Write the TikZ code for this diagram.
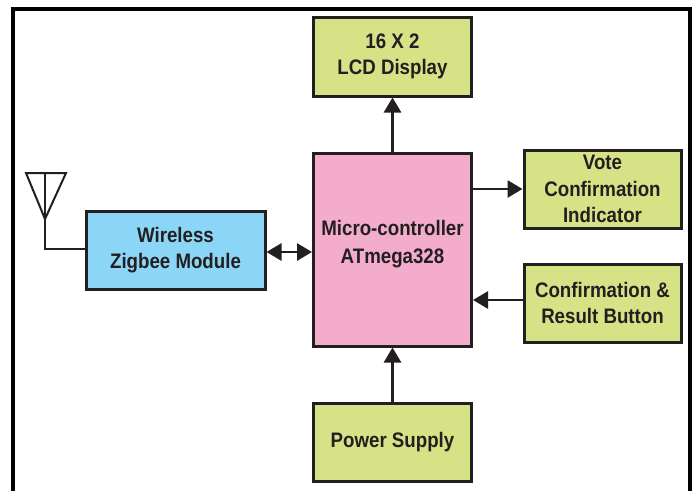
\documentclass[tikz,border=0pt]{standalone}
\usepackage{fontspec}
\setmainfont{Liberation Sans}[FakeStretch=0.89]
\usetikzlibrary{arrows.meta}
\definecolor{boxgreen}{RGB}{213,226,134}
\definecolor{boxpink}{RGB}{244,172,204}
\definecolor{boxblue}{RGB}{139,214,246}
\definecolor{ink}{RGB}{35,31,32}
\tikzset{
  blk/.style={draw=ink, line width=3pt, inner sep=0pt, align=center,
    font=\fontsize{21}{26.5}\selectfont\bfseries, text=ink},
  gbox/.style={blk, fill=boxgreen},
  lbl/.style={inner sep=0pt, align=center, font=\fontsize{21}{27.5}\selectfont\bfseries, text=ink},
  tip/.tip={Triangle[length=15pt,width=17pt]},
  arr/.style={draw=ink, line width=2.8pt, -tip},
  darr/.style={draw=ink, line width=2.8pt, tip-tip},
  wire/.style={draw=ink, line width=2pt, line join=miter}
}
\begin{document}
\begin{tikzpicture}[x=1pt,y=-1pt]
\useasboundingbox (0,0) rectangle (695,491);
\fill[white] (0,0) rectangle (695,491);
% frame
\draw[black, line width=4pt] (13,491) -- (13,8.5) -- (690,8.5) -- (690,491);
% blocks
\node[gbox, minimum width=158pt, minimum height=79pt] (lcd) at (392.5,56.5) {16 X 2\\LCD Display};
\node[blk, fill=boxpink, minimum width=158pt, minimum height=193pt] (mcu) at (392.5,249.5) {};
\node[lbl] (mcutext) at (392.5,244) {Micro-controller\\ATmega328};
\node[gbox, minimum width=157pt, minimum height=78pt] (vote) at (602.5,189) {Vote\\Confirmation\\Indicator};
\node[gbox, minimum width=157pt, minimum height=78pt] (conf) at (602.5,303) {Confirmation \&\\Result Button};
\node[gbox, minimum width=158pt, minimum height=78pt] (power) at (392.5,442) {Power Supply};
\node[blk, fill=boxblue, minimum width=179pt, minimum height=78pt] (zig) at (175.5,250) {Wireless\\Zigbee Module};
% connectors
\draw[arr] (mcu.north) -- (lcd.south);
\draw[arr] (mcu.east |- vote.west) -- (vote.west);
\draw[arr] ([yshift=3pt]conf.west) -- ([yshift=3pt]mcu.east |- conf.west);
\draw[arr] (power.north) -- (mcu.south);
\draw[darr] ([yshift=-2pt]zig.east) -- ([yshift=-2pt]mcu.west |- zig.east);
% antenna
\coordinate (atop) at (45,173);
\coordinate (aleft) at (26,173);
\coordinate (aright) at (66,173);
\coordinate (apex) at (45,219);
\coordinate (feed) at (45,249);
\draw[wire] (aleft) -- (aright) -- (apex) -- cycle;
\draw[wire] (atop) -- (feed) -- (zig.west |- feed);
\end{tikzpicture}
\end{document}
